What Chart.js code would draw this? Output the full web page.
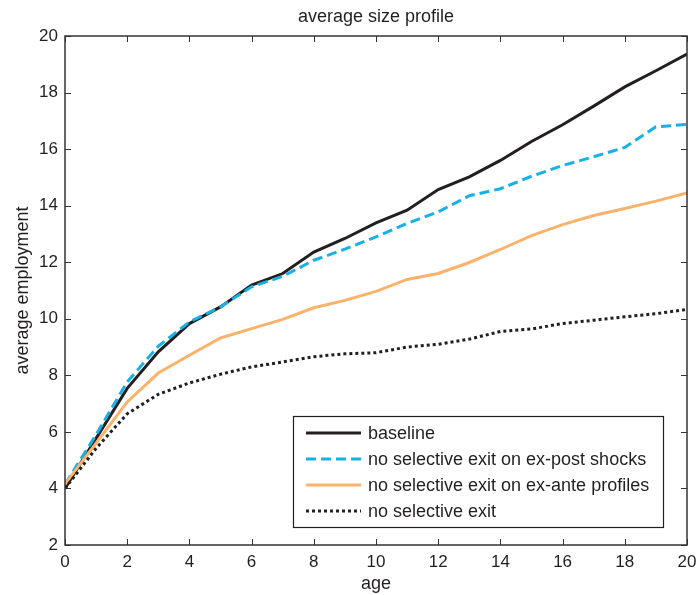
<!DOCTYPE html>
<html>
<head>
<meta charset="UTF-8">
<title>average size profile</title>
<script src="https://cdn.jsdelivr.net/npm/chart.js"></script>
<style>
    html, body { margin: 0; padding: 0; background: #fff; }
    #wrap { width: 697px; height: 595px; position: relative; }
</style>
</head>
<body>
<div id="wrap"><canvas id="grafico"></canvas></div>
<script>
    const ages = [0,1,2,3,4,5,6,7,8,9,10,11,12,13,14,15,16,17,18,19,20];
    const baseline   = [4.0,5.77,7.54,8.83,9.83,10.42,11.19,11.6,12.36,12.84,13.39,13.84,14.57,15.02,15.6,16.27,16.86,17.52,18.2,18.77,19.36];
    const expostOff  = [4.15,5.9,7.77,9.03,9.89,10.42,11.13,11.5,12.07,12.46,12.9,13.37,13.78,14.35,14.6,15.04,15.42,15.73,16.06,16.79,16.87];
    const exanteOff  = [4.15,5.6,7.06,8.08,8.71,9.32,9.65,9.98,10.39,10.65,10.97,11.39,11.6,11.99,12.45,12.94,13.33,13.65,13.9,14.16,14.45];
    const noSelExit  = [4.0,5.42,6.64,7.33,7.73,8.04,8.3,8.47,8.66,8.76,8.8,9.0,9.1,9.28,9.55,9.64,9.83,9.95,10.07,10.18,10.33];
    const xTicks = [0,2,4,6,8,10,12,14,16,18,20];
    const yTicks = [2,4,6,8,10,12,14,16,18,20];

    const FONT = 'Liberation Sans, Arial, sans-serif';
    const TXT = '#231f20';

    function pts(arr) { return ages.map((a, i) => ({ x: a, y: arr[i] })); }

    const series = [
        { label: 'baseline', data: baseline, color: '#231f20', dash: [], order: 4 },
        { label: 'no selective exit on ex-post shocks', data: expostOff, color: '#17b1e6', dash: [10, 5], order: 3 },
        { label: 'no selective exit on ex-ante profiles', data: exanteOff, color: '#fbb36c', dash: [], order: 2 },
        { label: 'no selective exit', data: noSelExit, color: '#231f20', dash: [3, 3], order: 1 }
    ];

    // caixa, ticks para dentro, titulo e legenda no estilo matlab
    const moldura = {
        id: 'moldura',
        afterDraw(chart) {
            const ctx = chart.ctx;
            const a = chart.chartArea;
            const xs = chart.scales.x, ys = chart.scales.y;
            ctx.save();
            ctx.strokeStyle = '#333';
            ctx.lineWidth = 1;
            ctx.setLineDash([]);
            ctx.beginPath();
            xTicks.forEach(t => {
                const px = Math.round(xs.getPixelForValue(t)) + 0.5;
                ctx.moveTo(px, a.bottom); ctx.lineTo(px, a.bottom - 6);
                ctx.moveTo(px, a.top); ctx.lineTo(px, a.top + 6);
            });
            yTicks.forEach(t => {
                const py = Math.round(ys.getPixelForValue(t)) + 0.5;
                ctx.moveTo(a.left, py); ctx.lineTo(a.left + 6, py);
                ctx.moveTo(a.right, py); ctx.lineTo(a.right - 6, py);
            });
            ctx.stroke();
            ctx.lineWidth = 1.5;
            ctx.strokeRect(a.left, a.top, a.right - a.left, a.bottom - a.top);

            // titulo
            ctx.fillStyle = TXT;
            ctx.font = '18px ' + FONT;
            ctx.textAlign = 'center';
            ctx.textBaseline = 'middle';
            ctx.fillText('average size profile', (a.left + a.right) / 2, 17);

            // legenda
            const lx = 293, ly = 416, lw = 370, lh = 111;
            ctx.fillStyle = '#fff';
            ctx.fillRect(lx, ly, lw, lh);
            ctx.strokeStyle = '#231f20';
            ctx.lineWidth = 1.2;
            ctx.strokeRect(lx + 0.5, ly + 0.5, lw, lh);
            ctx.font = '18px ' + FONT;
            ctx.textAlign = 'left';
            series.forEach((s, i) => {
                const y = 433 + i * 26;
                ctx.strokeStyle = s.color;
                ctx.lineWidth = 3;
                ctx.setLineDash(s.dash);
                ctx.beginPath();
                ctx.moveTo(306, y); ctx.lineTo(361, y);
                ctx.stroke();
                ctx.setLineDash([]);
                ctx.fillStyle = TXT;
                ctx.fillText(s.label, 368, y + 1);
            });
            ctx.restore();
        }
    };

    new Chart(document.getElementById('grafico'), {
        type: 'line',
        data: {
            datasets: series.map(s => ({
                label: s.label,
                data: pts(s.data),
                borderColor: s.color,
                borderWidth: 3,
                borderDash: s.dash,
                pointRadius: 0,
                tension: 0,
                fill: false,
                order: s.order
            }))
        },
        options: {
            responsive: true,
            maintainAspectRatio: false,
            animation: false,
            events: [],
            layout: { padding: { top: 36, right: 10, left: 0, bottom: 0 } },
            plugins: { legend: { display: false }, tooltip: { enabled: false }, title: { display: false } },
            scales: {
                x: {
                    type: 'linear', min: 0, max: 20,
                    afterFit(scale) { scale.height = 50; scale.paddingLeft = 0; scale.paddingRight = 0; },
                    afterBuildTicks(scale) { scale.ticks = xTicks.map(v => ({ value: v })); },
                    grid: { display: false, drawTicks: false },
                    border: { display: false },
                    ticks: { color: TXT, font: { family: FONT, size: 17 }, padding: 7, maxRotation: 0 },
                    title: { display: true, text: 'age', color: TXT, font: { family: FONT, size: 18 }, padding: { top: 0, bottom: 0 } }
                },
                y: {
                    min: 2, max: 20,
                    afterFit(scale) { scale.width = 65; scale.paddingTop = 0; scale.paddingBottom = 0; },
                    afterBuildTicks(scale) { scale.ticks = yTicks.map(v => ({ value: v })); },
                    grid: { display: false, drawTicks: false },
                    border: { display: false },
                    ticks: { color: TXT, font: { family: FONT, size: 17 }, padding: 7 },
                    title: { display: true, text: 'average employment', color: TXT, font: { family: FONT, size: 18 }, padding: { top: 12, bottom: 0 } }
                }
            }
        },
        plugins: [moldura]
    });
</script>
</body>
</html>
